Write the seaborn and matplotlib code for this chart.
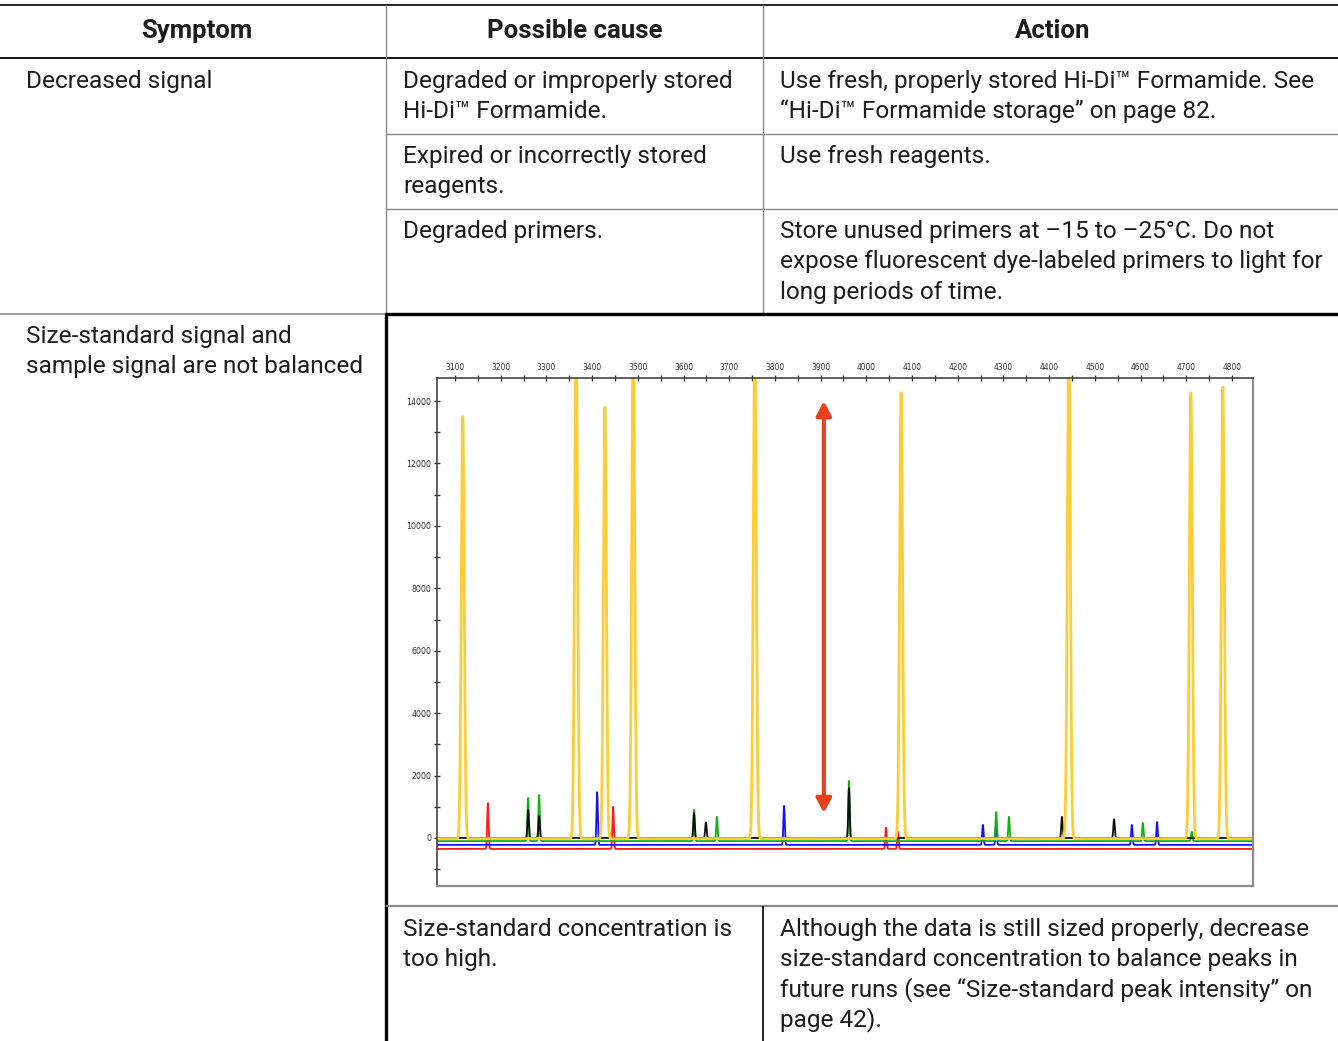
import numpy as np
import pandas as pd
import matplotlib
matplotlib.use("Agg")
import matplotlib.pyplot as plt
from matplotlib.lines import Line2D
from matplotlib.ticker import MultipleLocator, FixedLocator
import seaborn as sns

# ---------------- data ----------------
size_ticks = list(range(3100, 4801, 100))
signal_ticks = list(range(0, 14001, 2000))

yellow_pos = [3117, 3365, 3428, 3490, 3756, 4076, 4443, 4710, 4780]
yellow_top = [13500, 16000, 13800, 16000, 16000, 14260, 16000, 14260, 14450]
black_pos = [3260, 3284, 3623, 3649, 3962, 4428, 4542]
black_top = [900, 700, 800, 500, 1600, 680, 600]
green_pos = [3260, 3284, 3623, 3673, 3962, 4284, 4312, 4605, 4712]
green_top = [1280, 1380, 900, 680, 1830, 830, 680, 480, 200]
blue_pos = [3411, 3820, 4255, 4284, 4581, 4636]
blue_top = [1470, 1030, 420, 500, 420, 510]
red_pos = [3172, 3446, 4043, 4069]
red_top = [1120, 1000, 330, 200]
baseline = {"red": -350, "blue": -220, "green": -100, "black": 0, "yellow": -20}

arrow_size = 3907
arrow_span = (800, 14000)

headers = ["Symptom", "Possible cause", "Action"]
symptom_1 = ["Decreased signal"]
causes_1 = [["Degraded or improperly stored", "Hi-Di\u2122 Formamide."],
            ["Expired or incorrectly stored", "reagents."],
            ["Degraded primers."]]
actions_1 = [["Use fresh, properly stored Hi-Di\u2122 Formamide. See",
              "\u201cHi-Di\u2122 Formamide storage\u201d on page 82."],
             ["Use fresh reagents."],
             ["Store unused primers at \u201315 to \u201325\u00b0C. Do not",
              "expose fluorescent dye-labeled primers to light for",
              "long periods of time."]]
symptom_2 = ["Size-standard signal and", "sample signal are not balanced"]
cause_2 = ["Size-standard concentration is", "too high."]
action_2 = ["Although the data is still sized properly, decrease",
            "size-standard concentration to balance peaks in",
            "future runs (see \u201cSize-standard peak intensity\u201d on",
            "page 42)."]

# ---------------- figure ----------------
sns.set_style("white")
plt.rcParams["font.family"] = ["Roboto", "DejaVu Sans"]

W, H = 1338, 1041
fig = plt.figure(figsize=(W / 100, H / 100), dpi=100)
fig.patch.set_facecolor("white")


def fx(x):
    return x / W


def fy(y):
    return 1 - y / H


def hline(y, x0, x1, color, lw):
    fig.add_artist(Line2D([fx(x0), fx(x1)], [fy(y), fy(y)], color=color, lw=lw,
                          transform=fig.transFigure, solid_capstyle="butt"))


def vline(x, y0, y1, color, lw):
    fig.add_artist(Line2D([fx(x), fx(x)], [fy(y0), fy(y1)], color=color, lw=lw,
                          transform=fig.transFigure, solid_capstyle="butt"))


TXT = "#1c1c1c"
GRAY = "#8a8a8a"
FS = 17.6


def lines_at(x, y0, lines):
    for i, s in enumerate(lines):
        fig.text(fx(x), fy(y0 + 30.3 * i), s, fontsize=FS, color=TXT,
                 ha="left", va="baseline")


# table borders
hline(5, 0, W, "black", 1.2)
hline(58, 0, W, "black", 1.3)
vline(386, 5, 314, GRAY, 1.0)
vline(763, 5, 314, GRAY, 1.0)
hline(134, 386, W, GRAY, 1.0)
hline(209, 386, W, GRAY, 1.0)
hline(314, 0, 386, GRAY, 1.2)
hline(314, 385, W, "black", 2.4)
vline(386, 313, H, "black", 2.4)
hline(906, 386, W, GRAY, 1.6)
vline(763, 906, H, "black", 1.2)

# header
for s, cx in zip(headers, [197, 575, 1053]):
    fig.text(fx(cx), fy(38), s, fontsize=18.5, fontweight="bold", color=TXT,
             ha="center", va="baseline")

lines_at(26, 88, symptom_1)
for lines, y in zip(causes_1, [88, 163, 238]):
    lines_at(403, y, lines)
for lines, y in zip(actions_1, [88, 163, 238]):
    lines_at(780, y, lines)
lines_at(26, 343, symptom_2)
lines_at(403, 936, cause_2)
lines_at(780, 936, action_2)

# ---------------- electropherogram ----------------
x0_px, x1_px, y0_px, y1_px = 436.7, 1253, 378, 886
ax = fig.add_axes([fx(x0_px), fy(y1_px), (x1_px - x0_px) / W, (y1_px - y0_px) / H])
ax.set_facecolor("white")

grid = np.arange(3060, 4846, 0.25)
widths = {"yellow": 3.2, "black": 1.5, "green": 1.5, "blue": 1.5, "red": 1.5}
peaks = {"red": (red_pos, red_top), "blue": (blue_pos, blue_top),
         "green": (green_pos, green_top), "black": (black_pos, black_top),
         "yellow": (yellow_pos, yellow_top)}
frames = []
for dye in ["red", "blue", "green", "black", "yellow"]:
    pos, top = peaks[dye]
    b = baseline[dye]
    sig = np.full_like(grid, float(b))
    for p, t in zip(pos, top):
        sig += (t - b) * np.exp(-0.5 * ((grid - p) / widths[dye]) ** 2)
    frames.append(pd.DataFrame({"size": grid, "signal": sig, "dye": dye}))
df = pd.concat(frames, ignore_index=True)

palette = {"red": "#ff1a1a", "blue": "#1010ff", "green": "#10b010",
           "black": "#101010", "yellow": "#ffcc33"}
hue_order = ["red", "blue", "green", "black", "yellow"]
for dye in hue_order:
    sns.lineplot(data=df[df["dye"] == dye], x="size", y="signal", color=palette[dye],
                 lw=2.0 if dye == "yellow" else 1.3, estimator=None, sort=False,
                 ax=ax, legend=False)

ax.set_xlim(3060, 4846)
ax.set_ylim(-1538, 14739)
ax.set_xlabel("")
ax.set_ylabel("")

ax.annotate("", xy=(arrow_size, arrow_span[1]), xytext=(arrow_size, arrow_span[0]),
            arrowprops=dict(arrowstyle="<|-|>,head_length=0.85,head_width=0.45",
                            lw=3, color="#e8401c", shrinkA=0, shrinkB=0))

ax.xaxis.tick_top()
ax.xaxis.set_major_locator(FixedLocator(size_ticks))
ax.xaxis.set_minor_locator(FixedLocator([v + 50 for v in size_ticks[:-1]]))
ax.yaxis.set_major_locator(FixedLocator(signal_ticks))
ax.yaxis.set_minor_locator(MultipleLocator(1000))
ax.set_xticklabels([str(v) for v in size_ticks])
ax.set_yticklabels([str(v) for v in signal_ticks])
ax.tick_params(axis="both", which="both", direction="inout", length=5, width=1.0,
               color="#333333", labelcolor="#333333", labelsize=6.3, pad=1.5)
ax.tick_params(axis="x", which="both", top=True, bottom=False, labeltop=True,
               labelbottom=False)
ax.tick_params(axis="y", which="both", left=True, right=False)
for lab in ax.get_xticklabels():
    lab.set_fontfamily(["DejaVu Sans"])
    lab.set_fontstretch("condensed")
    lab.set_fontsize(6.0)
for lab in ax.get_yticklabels():
    lab.set_fontfamily(["DejaVu Sans"])
    lab.set_fontstretch("condensed")

for side in ["top", "left"]:
    ax.spines[side].set_color("#444444")
    ax.spines[side].set_linewidth(1.2)
for side in ["bottom", "right"]:
    ax.spines[side].set_color("#8a8a8a")
    ax.spines[side].set_linewidth(1.6)

fig.savefig("out.png", dpi=100, facecolor="white")
